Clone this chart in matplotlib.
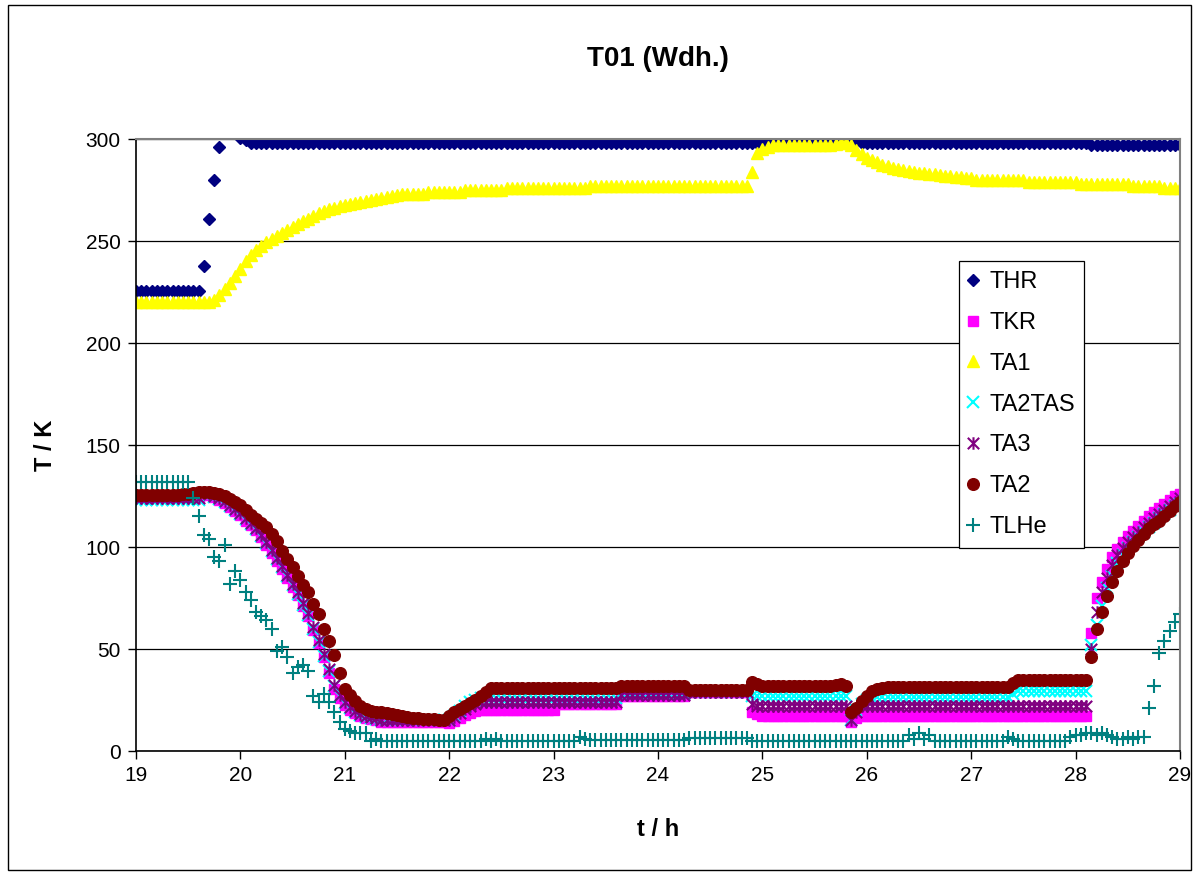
import numpy as np
import matplotlib.pyplot as plt
from matplotlib.path import Path
from matplotlib.patches import Rectangle

plt.rcParams['font.family'] = ['Liberation Sans', 'DejaVu Sans']

# Messzeitpunkte: alle 0,05 h von 19 h bis 29 h
t = np.round(19 + 0.05 * np.arange(201), 2)
nan = np.nan

THR = ([225.5] * 13
       + [238, 261, 280, 296, nan, nan, nan, 300.5, 299.5]
       + [298] * 99
       + [299] * 13
       + [299.5, 300, 300.5, 300, 299]
       + [298] * 44
       + [297] * 18)

TA1 = ([220] * 15
       + [221, 223.5, 226.5, 229.5, 233, 236.5, 240, 243, 245.5, 247.5,
          249.5, 251, 252.5, 254, 255.5, 257, 258.5, 260, 261, 262.5,
          263.5, 264.5, 265.5, 266, 267, 267.5, 268, 268.5, 269, 269.5,
          270, 270.5, 271, 271.5, 272, 272.5]
       + [273] * 5 + [274] * 7 + [275] * 8 + [276] * 16 + [277] * 31
       + [284, 293, 295, 296]
       + [297] * 12
       + [297.5, 298, 298, 297]
       + [294.5, 292.5, 290.5, 289.5, 288.5, 287.5, 287, 286, 285.5, 285,
          284.5, 284, 283.5, 283.5, 283, 283, 282.5, 282, 282, 281.5,
          281.5, 281, 281]
       + [280] * 10 + [279] * 10 + [278] * 10 + [277] * 6 + [276] * 4)

TA2 = ([125.5] * 9
       + [126, 126, 126.5, 127, 127, 127, 126.5, 126, 125, 123.5,
          122, 120.5, 118, 115.5, 113.5, 112, 110, 106.5, 103, 98,
          94, 90, 86, 81.5, 78, 72, 67, 60, 54, 47,
          38, 30.5, 27.5, 24.5, 22, 20.5, 19.5, 19, 19, 18.5,
          18, 17.5, 17, 16.5, 16, 16, 15.5, 15.5, 15.5, 15, 15]
       + [17, 19, 20.5, 22, 23.5, 25, 27, 29]
       + [31] * 25 + [32] * 13 + [30] * 12
       + [34, 33]
       + [32] * 14
       + [32.5, 33, 32, 19, 21, 24.5, 27, 29.5, 30.5, 31]
       + [31.5] * 24
       + [33.5]
       + [35] * 14
       + [46, 60, 68, 76, 83, 88, 93, 97, 100.5, 103.5,
          106.5, 109.5, 111.5, 113, 115, 117.5, 120, 122])

TKR = ([124.5] * 13
       + [126, 125.5, 124.5, 123, 121.5, 119.5, 117.5, 115.5, 113, 111,
          108.5, 105, 101, 97, 93, 89, 85, 80.5, 76.5, 71,
          66, 59.5, 53, 46, 38, 30.5, 26, 22.5, 20, 18.5,
          17, 16, 15.5, 15]
       + [14] * 13
       + [13.5, 14.5, 16, 17.5, 18.5, 19.5]
       + [20] * 15 + [23] * 12 + [27] * 13 + [29] * 12
       + [19, 18]
       + [17] * 17
       + [14, 16]
       + [17] * 44
       + [58, 75, 83, 89, 95, 99, 102.5, 105.5, 108, 110.5,
          113, 115, 117, 119, 121, 123, 125, 126])

TA3 = ([124] * 13
       + [126.5, 126, 125, 124, 122.5, 120.5, 118.5, 116.5, 114, 112,
          109.5, 106, 102.5, 98.5, 94.5, 90.5, 86.5, 82, 78, 72.5,
          67.5, 61, 54.5, 47.5, 40, 32.5, 27.5, 24, 21.5, 19.5,
          18, 17, 16.5, 16]
       + [15] * 13
       + [15, 16.5, 18.5, 20.5, 22, 23]
       + [24] * 27 + [27.5] * 13 + [29] * 12
       + [23, 22]
       + [22] * 17
       + [15, 19]
       + [22] * 44
       + [50, 68, 78, 85, 91, 96, 99.5, 102.5, 105, 107.5,
          110, 112, 114, 116, 118, 120, 122, 124])

TA2TAS = ([123] * 13
          + [126, 125.5, 124.5, 123.5, 122, 120, 118, 116, 113.5, 111.5,
             109, 105.5, 102, 98, 94, 90, 86, 81.5, 77, 71.5,
             66.5, 60, 53.5, 46.5, 39, 32, 27, 23.5, 21, 19,
             17.5, 16.5, 16, 15.5]
          + [15] * 13
          + [15, 17, 19.5, 22, 24, 25]
          + [26] * 27 + [28] * 13 + [29] * 12
          + [27, 27]
          + [27] * 17
          + [15, 20, 23, 25, 26]
          + [26.5] * 26
          + [28]
          + [29.5] * 14
          + [52, 62, 71, 80, 86, 92, 96, 99.5, 102.5, 105,
             107.5, 110, 112, 114, 116, 118, 120, 121])

TLHe = ([132] * 11
        + [124, 115, 106, 104, 95, 93, 101, 82, 88, 84,
           78, 74, 68, 66, 64, 60, 49, 51, 46, 38,
           41, 42, 39, 27, 24, 28, 24, 19, 14, 11,
           10, 9, 9, 9, 5, 6]
        + [5] * 20 + [6, 5, 6] + [5] * 15 + [7, 6] + [5.5] * 19
        + [6.5] * 12 + [5] * 30 + [8, 6, 9, 6, 8] + [5] * 14
        + [7, 6] + [5] * 10 + [7, 8, 8, 9]
        + [9, 8, 9, 8, 7, 6, 6, 7, 6, 7]
        + [7, 21, 32, 48, 54, 59, 63, 67])

# Sternchen wie im Tabellenprogramm: Kreuz mit senkrechtem Strich
stern = Path([(-0.5, -0.5), (0.5, 0.5), (-0.5, 0.5), (0.5, -0.5), (0, -0.55), (0, 0.55)],
             [Path.MOVETO, Path.LINETO, Path.MOVETO, Path.LINETO, Path.MOVETO, Path.LINETO])

reihen = [
    ('THR', THR, dict(marker='D', ms=6.6, color='#000080')),
    ('TKR', TKR, dict(marker='s', ms=7.5, color='#FF00FF')),
    ('TA1', TA1, dict(marker='^', ms=9.0, color='#FFFF00')),
    ('TA2TAS', TA2TAS, dict(marker='x', ms=8.5, mew=1.5, color='#00FFFF')),
    ('TA3', TA3, dict(marker=stern, ms=9.0, mew=1.5, color='#800080')),
    ('TA2', TA2, dict(marker='o', ms=8.4, color='#800000')),
    ('TLHe', TLHe, dict(marker='+', ms=9.5, mew=1.5, color='#008080')),
]

fig = plt.figure(figsize=(11.99, 8.75), dpi=100)
ax = fig.add_axes([0.1134, 0.1417, 0.8708, 0.6994])

for name, werte, stil in reihen:
    ax.plot(t, werte, linestyle='none', label=name, mec=stil['color'], **stil)

ax.set_xlim(19, 29)
ax.set_ylim(0, 300)
ax.set_xticks(range(19, 30))
ax.set_yticks(range(0, 301, 50))
ax.yaxis.grid(True, color='black', linewidth=0.9)
ax.set_axisbelow(True)
ax.tick_params(direction='out', length=6, width=1, labelsize=15, color='black', pad=5)

for seite in ['top', 'right']:
    ax.spines[seite].set_color('#808080')
    ax.spines[seite].set_linewidth(1.5)
ax.spines['left'].set_linewidth(1.2)
ax.spines['bottom'].set_linewidth(1.2)

fig.text(0.549, 0.933, 'T01 (Wdh.)', fontsize=20, fontweight='bold',
         ha='center', va='center')
ax.set_xlabel('t / h', fontsize=17, fontweight='bold', va='center')
ax.xaxis.set_label_coords(0.5, -0.129)
ax.set_ylabel('T / K', fontsize=17, fontweight='bold', va='center')
ax.yaxis.set_label_coords(-0.087, 0.5)

leg = ax.legend(loc='upper left', bbox_to_anchor=(0.788, 0.80), borderaxespad=0,
                fontsize=17, labelspacing=0.80, handlelength=0.4, handletextpad=0.5,
                borderpad=0.4, fancybox=False, framealpha=1, edgecolor='black')
leg.get_frame().set_linewidth(0.9)

# Rahmen um die ganze Grafik
fig.patches.append(Rectangle((0.007, 0.006), 0.986, 0.988, transform=fig.transFigure,
                             fill=False, edgecolor='black', linewidth=1))

fig.savefig('out.png', dpi=100)
